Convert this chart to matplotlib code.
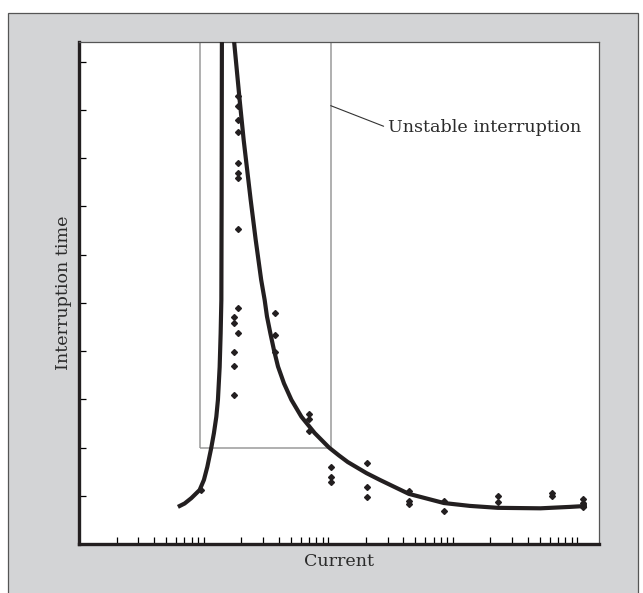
import matplotlib
matplotlib.use('Agg')
import matplotlib.pyplot as plt
from matplotlib.patches import Rectangle

# Measured interruption times (scatter), grouped by current column
pts_current = [19.0] * 10 + [17.5] * 5 + [37.2] * 3 + [70.6] * 3 + [9.5] \
    + [106] * 3 + [206] * 3 + [443] * 3 + [847] * 2 + [2290] * 2 + [6200] * 2 + [11100] * 3
pts_time = [9.29, 9.09, 8.80, 8.54, 7.90, 7.69, 7.60, 6.54, 4.89, 4.38,
            4.70, 4.59, 3.99, 3.69, 3.09,
            4.79, 4.34, 3.99,
            2.70, 2.59, 2.35,
            1.11,
            1.59, 1.39, 1.29,
            1.69, 1.19, 0.98,
            1.10, 0.89, 0.83,
            0.89, 0.69,
            1.00, 0.87,
            1.05, 1.00,
            0.93, 0.84, 0.76]

# Envelope curve: rising branch and falling branch
left_current = [6.22, 7.04, 7.96, 9.29, 10.06, 10.71, 11.53, 12.10, 12.65, 13.03,
                13.45, 13.70, 13.88, 13.95, 14.02, 14.05]
left_time = [0.77, 0.84, 0.95, 1.12, 1.33, 1.60, 2.00, 2.30, 2.64, 2.99,
             3.67, 4.37, 5.06, 7.14, 10.41, 10.8]
right_current = [17.22, 17.58, 19.46, 20.96, 23.85, 26.17, 28.96, 30.90, 32.24, 34.33,
                 36.70, 39.54, 44.16, 50.63, 60.91, 77.91, 101.5, 121.4, 143.4,
                 202.7, 259.3, 443.2, 846.6, 1369, 2298, 5044, 8785, 11925]
right_time = [10.66, 10.41, 9.21, 8.38, 7.14, 6.31, 5.48, 5.06, 4.72, 4.37,
              4.02, 3.68, 3.33, 2.99, 2.64, 2.30, 2.00, 1.84, 1.70,
              1.47, 1.33, 1.04, 0.85, 0.79, 0.75, 0.74, 0.77, 0.79]

# Unstable interruption zone
zone_current = (9.3, 104.7)
zone_time_low = 1.99

x_lim = (1, 10 ** 4.173)
y_lim = (0, 10.41)
y_ticks = [1, 2, 3, 4, 5, 6, 7, 8, 9, 10]
x_major = [10, 100, 1000, 10000]
x_minor = [m * 10 ** k for k in range(0, 4) for m in range(2, 10)]

INK = '#231f20'
TXT = '#2b2b2b'
FONT = 'DejaVu Serif'
FS = 12.6

fig = plt.figure(figsize=(6.43, 5.93), dpi=100)
fig.patch.set_facecolor('white')

# grey panel behind the plot
panel = Rectangle((8 / 643, -0.02), 630 / 643, (593 - 13) / 593 + 0.02,
                  transform=fig.transFigure, facecolor='#d3d4d6',
                  edgecolor='#555555', linewidth=0.9, zorder=-10)
fig.patches.append(panel)

ax = fig.add_axes([79 / 643, 49 / 593, 520 / 643, 502 / 593])
ax.set_zorder(1)
ax.set_facecolor('white')
ax.set_xscale('log')
ax.set_xlim(*x_lim)
ax.set_ylim(*y_lim)

ax.add_patch(Rectangle((zone_current[0], zone_time_low),
                       zone_current[1] - zone_current[0], 12,
                       fill=False, edgecolor='#9a9a9a', linewidth=1.1, zorder=1))

ax.plot(left_current, left_time, color=INK, lw=3.0, solid_joinstyle='round',
        solid_capstyle='butt', zorder=3)
ax.plot(right_current, right_time, color=INK, lw=3.0, solid_joinstyle='round',
        solid_capstyle='butt', zorder=3)
ax.plot(pts_current, pts_time, linestyle='none', marker='D', ms=3.0,
        color=INK, zorder=4)

ax.annotate('Unstable interruption', xy=(zone_current[1], 9.09), xytext=(300, 8.63),
            ha='left', va='center', fontsize=FS, family=FONT, color=TXT,
            arrowprops=dict(arrowstyle='-', color='#333333', lw=0.8,
                            shrinkA=1, shrinkB=0, relpos=(0, 0.5)))

ax.set_yticks(y_ticks)
ax.set_xticks(x_major)
ax.set_xticks(x_minor, minor=True)
ax.tick_params(axis='both', which='both', direction='in', length=5, width=0.9,
               color='black', labelleft=False, labelbottom=False)

for side in ('left', 'bottom'):
    ax.spines[side].set_linewidth(2.4)
    ax.spines[side].set_color(INK)
for side in ('top', 'right'):
    ax.spines[side].set_linewidth(0.9)
    ax.spines[side].set_color('#555555')

ax.set_xlabel('Current', fontsize=FS, family=FONT, color=TXT, va='center')
ax.xaxis.set_label_coords(0.5, -18 / 502)
ax.set_ylabel('Interruption time', fontsize=FS, family=FONT, color=TXT, va='center')
ax.yaxis.set_label_coords(-15 / 520, 0.5)

plt.savefig('out.png', dpi=100)
